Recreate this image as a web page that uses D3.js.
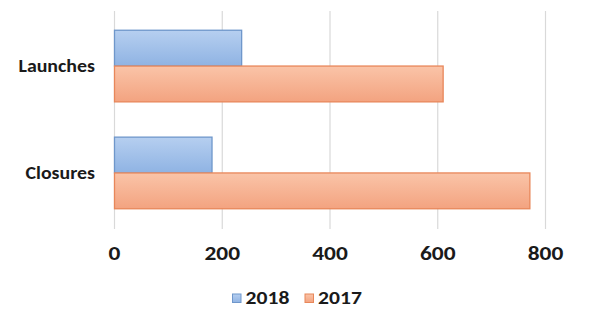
<!DOCTYPE html>
<html><head><meta charset="utf-8">
<script src="https://cdn.jsdelivr.net/npm/d3@7"></script>
<style>body{margin:0;background:#fff}svg{display:block}</style>
</head><body>
<svg id="c" width="600" height="324"></svg>
<script>
const categories = ["Launches", "Closures"];
const seriesNames = ["2018", "2017"];
const values2018 = [236, 181];
const values2017 = [610, 771];
const xTicks = [0, 200, 400, 600, 800];

const svg = d3.select("#c");
const font = "Carlito, Calibri, Lato, sans-serif";
const SX = 1.17;
const defs = svg.append("defs");
const grads = [
  {id: "gBlue", top: "#b6cff0", bot: "#8fb3e3", stroke: "#6f97cb"},
  {id: "gOrange", top: "#fac4a8", bot: "#f3a380", stroke: "#e8875a"}
];
grads.forEach(g => {
  const lg = defs.append("linearGradient").attr("id", g.id).attr("x1", 0).attr("y1", 0).attr("x2", 0).attr("y2", 1);
  lg.append("stop").attr("offset", "0%").attr("stop-color", g.top);
  lg.append("stop").attr("offset", "100%").attr("stop-color", g.bot);
});

const x = d3.scaleLinear().domain([0, 800]).range([114, 545]);
const y = d3.scaleBand().domain(categories).range([11, 228]).paddingInner(0.33).paddingOuter(0.18);
const ySub = d3.scaleBand().domain(seriesNames).range([0, y.bandwidth()]);

// gridlines
svg.append("g").selectAll("line").data(xTicks).join("line")
  .attr("x1", d => x(d) + 0.5).attr("x2", d => x(d) + 0.5)
  .attr("y1", 11).attr("y2", 229)
  .attr("stroke", "#d9d9d9").attr("stroke-width", 1.2);

const data = categories.map((c, i) => ({cat: c, vals: [values2018[i], values2017[i]]}));
const g = svg.append("g");
data.forEach(d => {
  d.vals.forEach((v, j) => {
    g.append("rect")
      .attr("x", x(0) + 0.5)
      .attr("y", y(d.cat) + ySub(seriesNames[j]))
      .attr("width", x(v) - x(0))
      .attr("height", ySub.bandwidth())
      .attr("fill", `url(#${grads[j].id})`)
      .attr("stroke", grads[j].stroke)
      .attr("stroke-width", 1.3);
  });
});

function label(sel, tx, ty, size, anchor, txt) {
  sel.append("text")
    .attr("transform", `translate(${tx},${ty}) scale(${SX},1)`)
    .attr("text-anchor", anchor).attr("dominant-baseline", "central")
    .attr("font-family", font).attr("font-weight", "bold").attr("font-size", size)
    .attr("fill", "#1a1a1a").text(txt);
}

// category labels
const cl = svg.append("g");
categories.forEach(c => label(cl, 95, y(c) + y.bandwidth() / 2, 17, "end", c));

// x tick labels (positions from the axis scale)
const xAxis = d3.axisBottom(x).tickValues(xTicks).tickSize(0).tickPadding(0);
const ax = svg.append("g").attr("transform", "translate(0,253)").call(xAxis);
ax.select(".domain").remove();
ax.selectAll("text").attr("font-family", font).attr("font-weight", "bold")
  .attr("font-size", 20).attr("fill", "#1a1a1a").attr("dy", 0).attr("y", 0)
  .attr("dominant-baseline", "central").attr("transform", `scale(${SX},1)`)
  .attr("x", 0);

// legend
const legendX = [232.5, 305];
const lg = svg.append("g");
seriesNames.forEach((s, j) => {
  lg.append("rect").attr("x", legendX[j]).attr("y", 294).attr("width", 8.5).attr("height", 8.5)
    .attr("fill", `url(#${grads[j].id})`).attr("stroke", grads[j].stroke).attr("stroke-width", 1);
  label(lg, legendX[j] + 13, 297.5, 18.5, "start", s);
});
</script>
</body></html>
